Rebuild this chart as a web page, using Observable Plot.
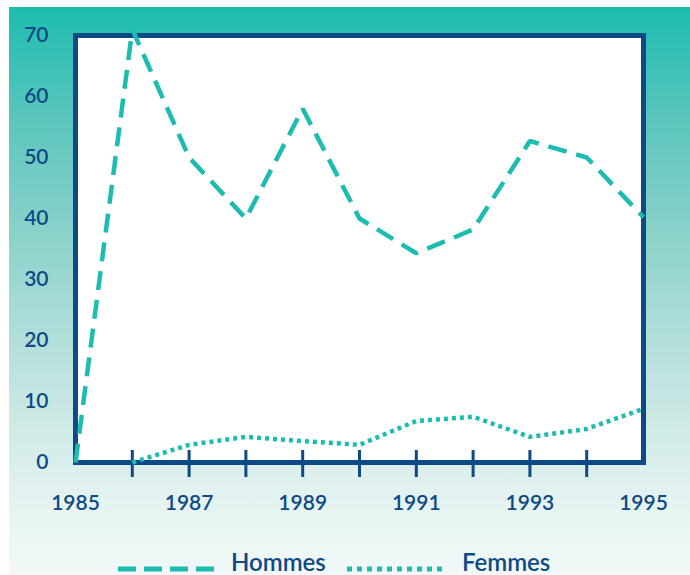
<!DOCTYPE html>
<html>
<head>
<meta charset="utf-8">
<script src="https://cdn.jsdelivr.net/npm/d3@7"></script>
<script src="https://cdn.jsdelivr.net/npm/@observablehq/plot@0.6"></script>
<style>
  html, body { margin: 0; padding: 0; background: #ffffff; }
  body { width: 690px; height: 575px; position: relative; overflow: hidden; font-family: Lato, "Open Sans", sans-serif; }
  #bg { position: absolute; left: 9px; top: 7px; right: 0; bottom: 0;
        background: linear-gradient(to bottom, #1dbcb0 0%, #5cc6bd 20%, #8fd3cc 42%, #bfe3df 65%, #e2f2f0 85%, #f2f9f8 100%); }
  #chart { position: absolute; left: 0; top: 0; }
  #legend { position: absolute; left: 0; top: 545px; width: 690px; height: 30px; }
  .item { position: absolute; top: 0; font-size: 24px; font-weight: 600; color: #0e4a86; line-height: 30px; white-space: nowrap; }
</style>
</head>
<body>
<div id="bg"></div>
<div id="chart"></div>
<div id="legend"></div>
<script>
const years = [1985, 1986, 1987, 1988, 1989, 1990, 1991, 1992, 1993, 1994, 1995];
const hommes = [0, 71, 50, 40, 58, 40, 34.3, 38.2, 52.7, 50, 40.2];
const femmesYears = [1986, 1987, 1988, 1989, 1990, 1991, 1992, 1993, 1994, 1995];
const femmes = [0, 2.9, 4.2, 3.5, 2.9, 6.8, 7.5, 4.2, 5.5, 8.8];
const yTicks = [0, 10, 20, 30, 40, 50, 60, 70];
const xLabelTicks = [1985, 1987, 1989, 1991, 1993, 1995];
const xMarkTicks = [1986, 1987, 1988, 1989, 1990, 1991, 1992, 1993, 1994];
const seriesNames = ["Hommes", "Femmes"];

const teal = "#1dbcb0";
const navy = "#0e4a86";

const H = years.map((y, i) => ({year: y, value: hommes[i]}));
const F = femmesYears.map((y, i) => ({year: y, value: femmes[i]}));

const chart = Plot.plot({
  width: 690,
  height: 525,
  marginLeft: 75,
  marginRight: 47,
  marginTop: 35,
  marginBottom: 63,
  style: {background: "transparent", fontFamily: "Lato, 'Open Sans', sans-serif", fontSize: "21px", fontWeight: 600, color: navy, overflow: "visible"},
  x: {domain: [1985, 1995]},
  y: {domain: [0, 70]},
  marks: [
    Plot.frame({fill: "white"}),
    Plot.axisY({ticks: yTicks, tickSize: 0, tickPadding: 27, label: null, tickFormat: d => String(d), fill: navy, fontSize: 21}),
    Plot.axisX({ticks: xMarkTicks, tickSize: 15, tickFormat: () => "", label: null, stroke: navy, strokeWidth: 3, strokeOpacity: 1}),
    Plot.axisX({ticks: xMarkTicks, tickSize: -12, tickFormat: () => "", label: null, stroke: navy, strokeWidth: 3, strokeOpacity: 1}),
    Plot.axisX({ticks: xLabelTicks, tickSize: 0, tickPadding: 33, tickFormat: d => String(d), label: null, fill: navy, fontSize: 21}),
    Plot.frame({stroke: navy, strokeWidth: 5}),
    Plot.line(F, {x: "year", y: "value", stroke: teal, strokeWidth: 4.5, strokeDasharray: "4,4", strokeLinecap: "butt", strokeLinejoin: "miter", curve: "linear"}),
    Plot.line(H, {x: "year", y: "value", stroke: teal, strokeWidth: 4.5, strokeDasharray: "19,10", strokeLinecap: "butt", strokeLinejoin: "miter", curve: "linear"})
  ]
});
document.getElementById("chart").appendChild(chart);

// Legend
const legend = document.getElementById("legend");
function swatch(left, dash) {
  const ns = "http://www.w3.org/2000/svg";
  const s = document.createElementNS(ns, "svg");
  s.setAttribute("width", 100);
  s.setAttribute("height", 30);
  s.style.position = "absolute";
  s.style.left = left + "px";
  s.style.top = "0px";
  const l = document.createElementNS(ns, "line");
  l.setAttribute("x1", 0); l.setAttribute("x2", 97);
  l.setAttribute("y1", 24); l.setAttribute("y2", 24);
  l.setAttribute("stroke", teal);
  l.setAttribute("stroke-width", 5);
  l.setAttribute("stroke-dasharray", dash);
  s.appendChild(l);
  legend.appendChild(s);
}
function label(left, text) {
  const d = document.createElement("div");
  d.className = "item";
  d.style.left = left + "px";
  d.style.top = "2px";
  d.textContent = text;
  legend.appendChild(d);
}
swatch(118, "18,8");
label(231, seriesNames[0]);
swatch(347, "5,5");
label(462, seriesNames[1]);
</script>
</body>
</html>
